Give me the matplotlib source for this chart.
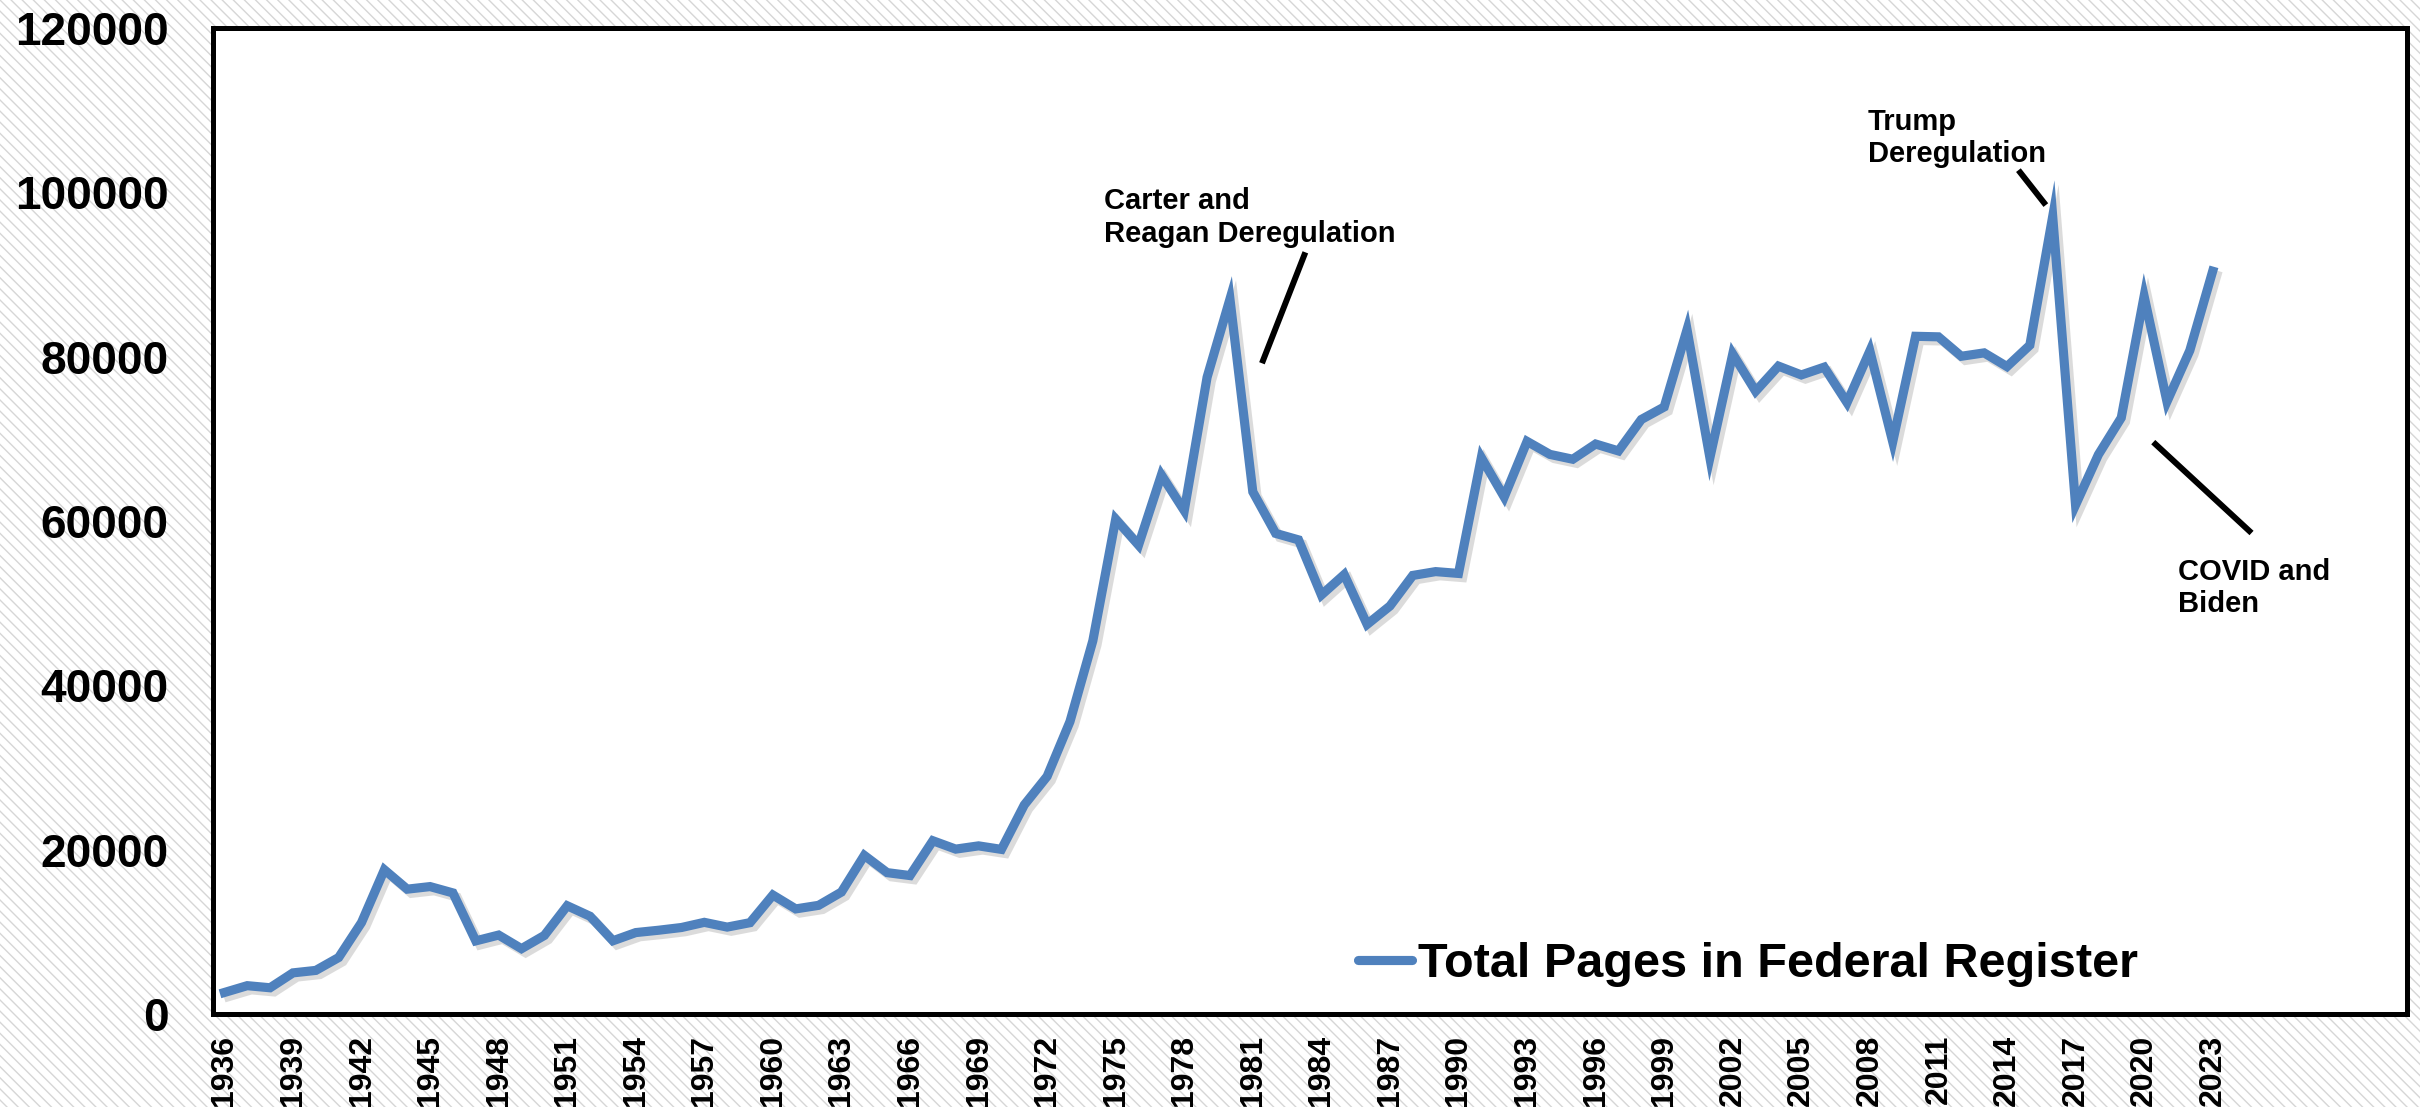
"""
Federal Register page counts, 1936-2023, with deregulation call-outs.

Run::

    python plot.py
"""

from __future__ import annotations

import matplotlib

matplotlib.use("Agg")
import matplotlib.pyplot as plt
import matplotlib.patheffects as pe
from matplotlib.patches import Rectangle

YEARS = list(range(1936, 2024))
TOTAL_PAGES = [
    2620, 3450, 3194, 5007, 5307, 6877, 11134, 17553, 15194, 15508,
    14736, 8902, 9608, 7952, 9562, 13175, 11896, 8912, 9910, 10196,
    10528, 11156, 10579, 11116, 14479, 12792, 13226, 14842, 19304, 17206,
    16850, 21087, 20068, 20464, 20036, 25447, 28924, 35592, 45422, 60221,
    57072, 65603, 61261, 77498, 87012, 63554, 58494, 57704, 50998, 53480,
    47418, 49654, 53376, 53842, 53620, 67716, 62919, 69688, 68108, 67518,
    69368, 68530, 72356, 73880, 83294, 67702, 80332, 75795, 78851, 77777,
    78724, 74408, 80700, 69644, 82480, 82415, 80050, 80462, 78796, 81402,
    97069, 61950, 68082, 72564, 87352, 74532, 80756, 90402,
]
TICK_YEARS = list(range(1936, 2024, 3))
Y_TICKS = [0, 20000, 40000, 60000, 80000, 100000, 120000]
SERIES_LABEL = "Total Pages in Federal Register"

# (text, text anchor, leader start, leader end) in data units
CALLOUTS = [
    ("Carter and\nReagan Deregulation", (1974.5, 100600), (1983.3, 92700), (1981.4, 79200)),
    ("Trump\nDeregulation", (2007.9, 110300), (2014.5, 102700), (2015.7, 98450)),
    ("COVID and\nBiden", (2021.5, 55500), (2020.4, 69600), (2024.7, 58540)),
]

LINE_COLOR = "#4f81bd"

plt.rcParams["font.family"] = ["Liberation Sans", "DejaVu Sans"]
plt.rcParams["hatch.linewidth"] = 1.0


def draw_chart(out_path: str = "out.png") -> None:
    fig = plt.figure(figsize=(24.2, 11.07), dpi=100)
    fig.patch.set_facecolor("white")

    # striped page background
    bg = Rectangle(
        (0, 0), 1, 1, transform=fig.transFigure, facecolor="white",
        edgecolor="#d6d6d6", hatch="\\\\\\", linewidth=0, zorder=-10,
    )
    fig.patches.append(bg)

    ax = fig.add_axes([0.088, 0.084, 0.9066, 0.8907])
    ax.set_facecolor("white")

    ax.plot(
        YEARS, TOTAL_PAGES, color=LINE_COLOR, linewidth=6.6,
        solid_joinstyle="miter", label=SERIES_LABEL,
        path_effects=[
            pe.SimpleLineShadow(offset=(3, -3), shadow_color="#8a8a8a", alpha=0.3),
            pe.Normal(),
        ],
    )

    for text, (tx, ty), p0, p1 in CALLOUTS:
        ax.plot([p0[0], p1[0]], [p0[1], p1[1]], color="black", linewidth=4.3,
                solid_capstyle="butt")
        ax.text(tx, ty, text, ha="left", va="top", fontsize=21,
                fontweight="bold", linespacing=1.2)

    ax.set_xlim(1935.5, 2031.5)
    ax.set_ylim(0, 120000)
    ax.set_xticks(TICK_YEARS)
    ax.set_xticklabels([str(y) for y in TICK_YEARS], rotation=90,
                       fontsize=23, fontweight="bold")
    ax.set_yticks(Y_TICKS)
    ax.set_yticklabels([str(v) for v in Y_TICKS], fontsize=33, fontweight="bold")
    ax.tick_params(axis="x", length=0, pad=15)
    ax.tick_params(axis="y", length=0, pad=32)

    for spine in ax.spines.values():
        spine.set_linewidth(3.6)
        spine.set_color("black")

    leg = ax.legend(
        loc="center left", bbox_to_anchor=(0.522, 0.05), frameon=False,
        borderpad=0, borderaxespad=0, handlelength=1.1, handletextpad=0.12,
        prop={"family": ["Liberation Sans Narrow", "Liberation Sans"],
              "weight": "bold", "size": 35},
    )
    for handle in leg.legend_handles:
        handle.set_path_effects([])
        handle.set_solid_capstyle("round")

    fig.savefig(out_path, dpi=100)
    plt.close(fig)


def main() -> None:
    draw_chart()


if __name__ == "__main__":
    main()
